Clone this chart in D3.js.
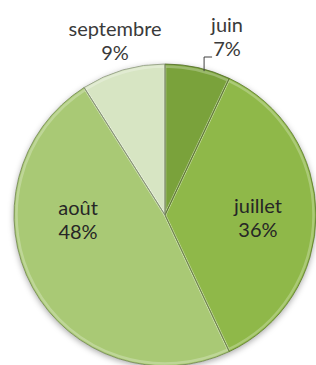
<!DOCTYPE html>
<html>
<head>
<meta charset="utf-8">
<title>Pie</title>
<script src="https://cdn.jsdelivr.net/npm/d3@7"></script>
<style>
  body { margin: 0; background: #fff; }
  text { font-family: Lato, "Open Sans", sans-serif; }
</style>
</head>
<body>
<svg id="chart" width="316" height="365"></svg>
<script>
    // data
    var months = ["juin", "juillet", "août", "septembre"];
    var shares = [7, 36, 48, 9];
    var colors = ["#7aa23a", "#8fb848", "#a9c975", "#d7e5c3"];

    // where Excel put each label (angle in degrees from top, distance as part of radius)
    var labelAngle = [19.2, 91.8, 266.7, 344];
    var labelDist = [1.25, 0.616, 0.577, 1.2];

    var cx = 165, cy = 215, r = 151;

    var svg = d3.select("#chart");
    var defs = svg.append("defs");

    var shadow = defs.append("filter").attr("id", "shadow")
        .attr("x", "-10%").attr("y", "-10%").attr("width", "120%").attr("height", "120%");
    shadow.append("feDropShadow")
        .attr("dx", 0).attr("dy", 2)
        .attr("stdDeviation", 3)
        .attr("flood-color", "#000").attr("flood-opacity", 0.35);

    var pie = d3.pie().sort(null).value(function(d) { return d; });
    var arcs = pie(shares);

    var arc = d3.arc().innerRadius(0).outerRadius(r);
    var arcInner = d3.arc().innerRadius(0).outerRadius(r - 2.5);

    var g = svg.append("g").attr("transform", "translate(" + cx + "," + cy + ")");

    var slices = g.append("g").attr("filter", "url(#shadow)");
    slices.selectAll("path")
        .data(arcs)
        .enter().append("path")
        .attr("d", arc)
        .style("fill", function(d, i) { return colors[i]; });

    // soft bevel: light inner rim and dark outer edge
    g.append("g").selectAll("path")
        .data(arcs)
        .enter().append("path")
        .attr("d", arcInner)
        .style("fill", "none")
        .style("stroke", "#fff")
        .style("stroke-opacity", 0.25)
        .style("stroke-width", 2.5)
        .style("stroke-linejoin", "round");

    g.append("g").selectAll("path")
        .data(arcs)
        .enter().append("path")
        .attr("d", arc)
        .style("fill", "none")
        .style("stroke", function(d, i) { return d3.color(colors[i]).darker(1.3); })
        .style("stroke-opacity", 0.75)
        .style("stroke-width", 1);

    // labels
    var lbl = g.append("g").selectAll("text")
        .data(arcs)
        .enter().append("text")
        .attr("text-anchor", "middle")
        .attr("transform", function(d, i) {
            var a = labelAngle[i] * Math.PI / 180;
            var x = Math.sin(a) * r * labelDist[i];
            var y = -Math.cos(a) * r * labelDist[i];
            return "translate(" + x + "," + y + ")";
        })
        .style("font-size", "20px")
        .style("fill", function(d, i) { return labelDist[i] > 1 ? "#3a3a3a" : "#262626"; });

    lbl.append("tspan").attr("x", 0).attr("dy", "-0.25em")
        .text(function(d, i) { return months[i]; });
    lbl.append("tspan").attr("x", 0).attr("dy", "1.2em")
        .text(function(d, i) { return shares[i] + "%"; });

    // leader line for the small slice juin
    var jA = 15 * Math.PI / 180;
    var ex = Math.sin(jA) * r, ey = -Math.cos(jA) * r;
    var lineY = 57 - cy;
    g.append("path")
        .attr("d", "M" + ex + "," + (ey + 2) + "V" + lineY + "H" + (ex + 8))
        .style("fill", "none")
        .style("stroke", "#404040")
        .style("stroke-width", 1);
</script>
</body>
</html>
